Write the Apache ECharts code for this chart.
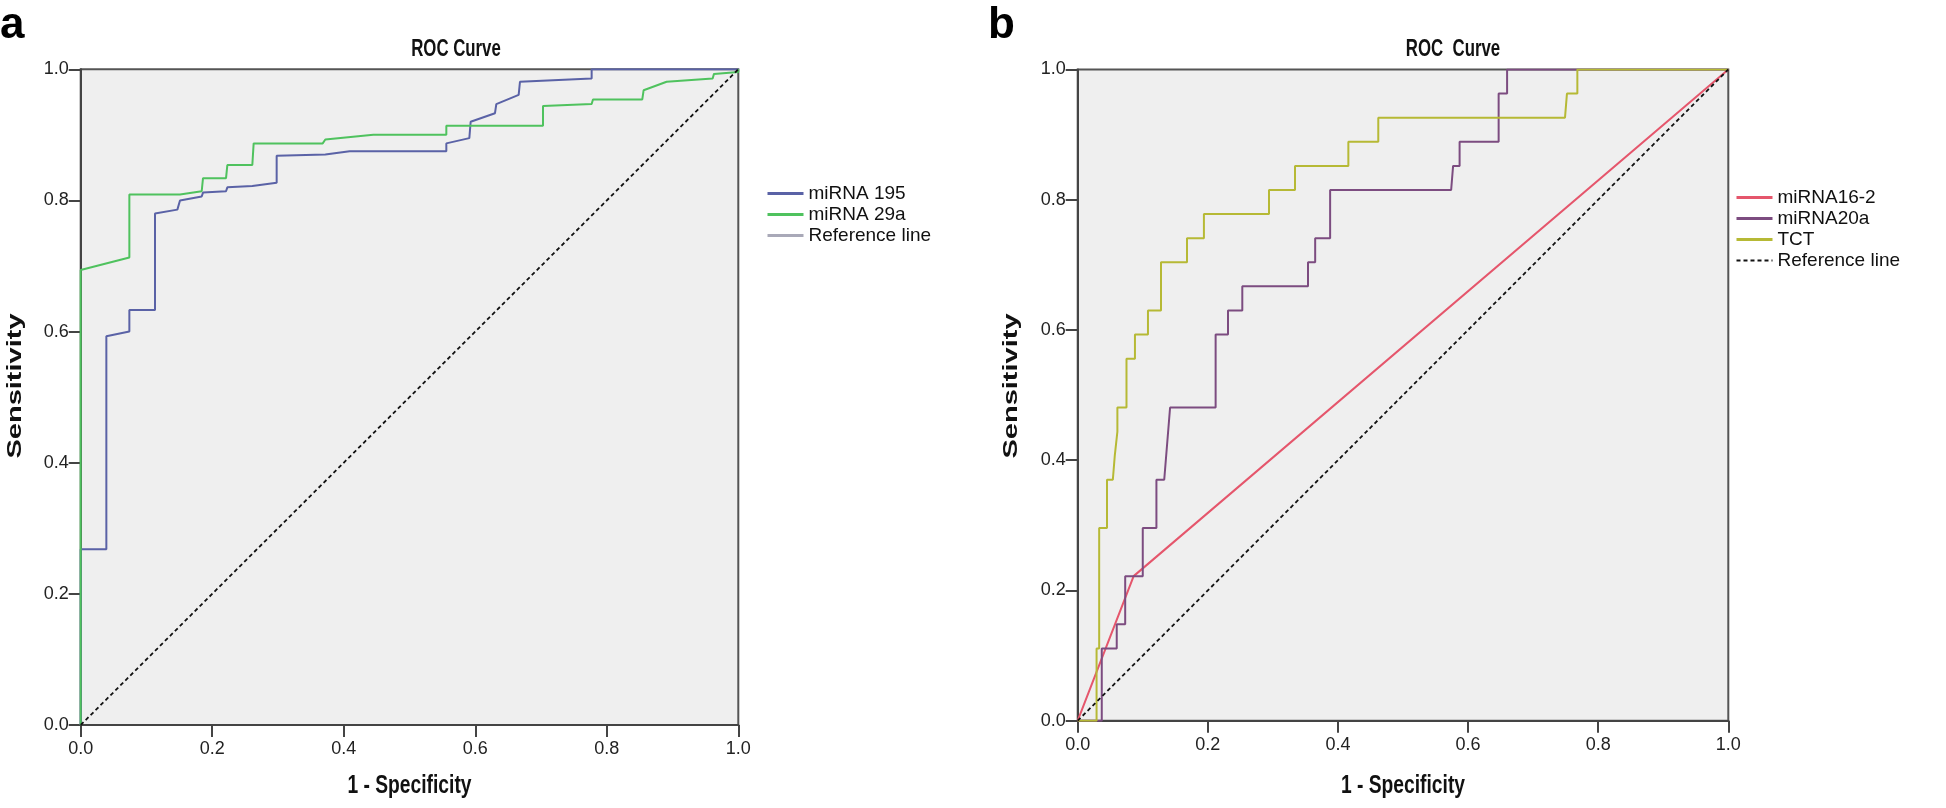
<!DOCTYPE html>
<html>
<head>
<meta charset="utf-8">
<script src="https://cdn.jsdelivr.net/npm/echarts@6/dist/echarts.min.js"></script>
<style>
html,body{margin:0;padding:0;background:#fff;}
#chart{width:1946px;height:808px;}
</style>
</head>
<body>
<div id="chart"></div>
<script>
// ---------- data ----------
const tickLabels = ['0.0','0.2','0.4','0.6','0.8','1.0'];

// Panel a
const mir195X = [0, 0, 0.039, 0.039, 0.074, 0.074, 0.113, 0.113, 0.147, 0.151, 0.184, 0.186, 0.221, 0.223, 0.261, 0.298, 0.298, 0.372, 0.409, 0.556, 0.556, 0.591, 0.593, 0.630, 0.632, 0.666, 0.668, 0.777, 0.777, 1.0];
const mir195Y = [0, 0.268, 0.268, 0.593, 0.600, 0.633, 0.633, 0.780, 0.786, 0.800, 0.806, 0.812, 0.814, 0.820, 0.822, 0.827, 0.868, 0.870, 0.875, 0.875, 0.887, 0.895, 0.920, 0.933, 0.947, 0.961, 0.981, 0.986, 1.0, 1.0];

const mir29aX = [0, 0, 0.074, 0.074, 0.151, 0.184, 0.186, 0.221, 0.223, 0.261, 0.263, 0.368, 0.372, 0.445, 0.556, 0.556, 0.703, 0.703, 0.777, 0.779, 0.854, 0.856, 0.891, 0.961, 0.963, 1.0, 1.0];
const mir29aY = [0, 0.694, 0.713, 0.809, 0.809, 0.814, 0.834, 0.834, 0.854, 0.854, 0.887, 0.887, 0.893, 0.900, 0.900, 0.914, 0.914, 0.944, 0.947, 0.954, 0.954, 0.968, 0.981, 0.986, 0.993, 0.996, 1.0];

// Panel b
const mir16X = [0, 0.086, 1.0];
const mir16Y = [0, 0.222, 1.0];

const mir20aX = [0, 0.037, 0.037, 0.060, 0.060, 0.073, 0.073, 0.100, 0.100, 0.121, 0.121, 0.133, 0.142, 0.212, 0.212, 0.231, 0.231, 0.253, 0.253, 0.354, 0.354, 0.365, 0.365, 0.388, 0.388, 0.574, 0.577, 0.587, 0.587, 0.647, 0.647, 0.660, 0.660, 1.0];
const mir20aY = [0, 0, 0.111, 0.111, 0.148, 0.148, 0.222, 0.222, 0.296, 0.296, 0.370, 0.370, 0.481, 0.481, 0.593, 0.593, 0.630, 0.630, 0.667, 0.667, 0.704, 0.704, 0.741, 0.741, 0.815, 0.815, 0.852, 0.852, 0.889, 0.889, 0.963, 0.963, 1.0, 1.0];

const tctX = [0, 0.029, 0.029, 0.033, 0.033, 0.045, 0.045, 0.054, 0.057, 0.061, 0.061, 0.075, 0.075, 0.088, 0.088, 0.108, 0.108, 0.128, 0.128, 0.168, 0.168, 0.194, 0.194, 0.294, 0.294, 0.334, 0.334, 0.416, 0.416, 0.462, 0.462, 0.749, 0.752, 0.768, 0.768, 1.0];
const tctY = [0, 0, 0.111, 0.111, 0.296, 0.296, 0.370, 0.370, 0.407, 0.444, 0.481, 0.481, 0.556, 0.556, 0.593, 0.593, 0.630, 0.630, 0.704, 0.704, 0.741, 0.741, 0.778, 0.778, 0.815, 0.815, 0.852, 0.852, 0.889, 0.889, 0.926, 0.926, 0.963, 0.963, 1.0, 1.0];

const refX = [0, 1];
const refY = [0, 1];

const zip = (xs, ys) => xs.map((x, i) => [x, ys[i]]);

// ---------- styles ----------
const FONT = "'Liberation Sans', Arial, sans-serif";
const C_BLUE = '#5a62a6', C_GREEN = '#4fc25e', C_RED = '#e5566c', C_PURPLE = '#7c4c80', C_OLIVE = '#b6b935';

function makeX(gi) {
  return {
    type: 'value', gridIndex: gi, min: 0, max: 1, interval: 0.2,
    axisLine: { show: true, onZero: false, lineStyle: { color: '#444', width: 2 } },
    axisTick: { show: true, inside: false, length: 12, lineStyle: { color: '#444', width: 2 } },
    axisLabel: { fontFamily: FONT, fontSize: 18, color: '#222', margin: 15,
      formatter: v => tickLabels[Math.round(v / 0.2)] },
    splitLine: { show: false }
  };
}
function makeY(gi) {
  return {
    type: 'value', gridIndex: gi, min: 0, max: 1, interval: 0.2,
    axisLine: { show: true, onZero: false, lineStyle: { color: '#444', width: 2 } },
    axisTick: { show: true, inside: false, length: 12, lineStyle: { color: '#444', width: 2 } },
    axisLabel: { fontFamily: FONT, fontSize: 18, color: '#222', margin: 12,
      formatter: v => tickLabels[Math.round(v / 0.2)] },
    splitLine: { show: false }
  };
}
function line(name, xs, ys, color, gi, extra) {
  return Object.assign({
    name, type: 'line', xAxisIndex: gi, yAxisIndex: gi,
    data: zip(xs, ys), symbol: 'none', silent: true, animation: false,
    lineStyle: { color, width: 2 }, itemStyle: { color }
  }, extra || {});
}
const hiddenSym = { opacity: 0, borderWidth: 0 };
function txt(text, x, y, font, extra) {
  return Object.assign({ type: 'text', silent: true, x, y,
    style: { text, font, fill: '#111', align: 'center', verticalAlign: 'middle' } }, extra || {});
}

const chart = echarts.init(document.getElementById('chart'), null, { renderer: 'canvas' });
chart.setOption({
  backgroundColor: '#ffffff',
  animation: false,
  grid: [
    { left: 80.7, top: 69.3, width: 657.6, height: 655.7, show: true, backgroundColor: '#efefef', borderColor: '#555', borderWidth: 2 },
    { left: 1077.7, top: 69.5, width: 650.6, height: 651.2, show: true, backgroundColor: '#efefef', borderColor: '#555', borderWidth: 2 }
  ],
  xAxis: [makeX(0), makeX(1)],
  yAxis: [makeY(0), makeY(1)],
  legend: [
    { orient: 'vertical', left: 766, top: 184, padding: 0, itemWidth: 36, itemHeight: 14, itemGap: 2,
      textStyle: { fontFamily: FONT, fontSize: 19, color: '#111', lineHeight: 18 },
      itemStyle: hiddenSym, lineStyle: { width: 3 },
      data: [
        { name: 'miRNA 195', itemStyle: hiddenSym },
        { name: 'miRNA 29a', itemStyle: hiddenSym },
        { name: 'Reference line', itemStyle: hiddenSym, lineStyle: { color: '#a9a9b8', type: 'solid', width: 3 } }
      ] },
    { orient: 'vertical', left: 1735, top: 188, padding: 0, itemWidth: 36, itemHeight: 14, itemGap: 2,
      textStyle: { fontFamily: FONT, fontSize: 19, color: '#111', lineHeight: 18 },
      itemStyle: hiddenSym, lineStyle: { width: 3 },
      data: [
        { name: 'miRNA16-2', itemStyle: hiddenSym },
        { name: 'miRNA20a', itemStyle: hiddenSym },
        { name: 'TCT', itemStyle: hiddenSym },
        { name: 'Reference line', itemStyle: hiddenSym, lineStyle: { color: '#111', type: [4, 3], width: 2 } }
      ] }
  ],
  graphic: [
    { type: 'text', silent: true, style: { text: 'a', font: "bold 44px " + FONT, fill: '#000' }, x: 0, y: 4 },
    { type: 'text', silent: true, style: { text: 'b', font: "bold 44px " + FONT, fill: '#000' }, x: 988, y: 4 },
    txt('ROC Curve', 456, 49, "bold 24px " + FONT, { scaleX: 0.7 }),
    txt('ROC  Curve', 1453, 49, "bold 24px " + FONT, { scaleX: 0.7 }),
    txt('Sensitivity', 15, 386, "bold 29px " + FONT, { rotation: Math.PI / 2, scaleY: 0.72 }),
    txt('Sensitivity', 1011, 386, "bold 29px " + FONT, { rotation: Math.PI / 2, scaleY: 0.72 }),
    txt('1 - Specificity', 409.5, 786, "bold 26px " + FONT, { scaleX: 0.74 }),
    txt('1 - Specificity', 1403, 786, "bold 26px " + FONT, { scaleX: 0.74 })
  ],
  series: [
    line('miRNA 195', mir195X, mir195Y, C_BLUE, 0),
    line('miRNA 29a', mir29aX, mir29aY, C_GREEN, 0),
    line('Reference line', refX, refY, '#111', 0, { lineStyle: { color: '#111', width: 1.8, type: [4, 3] } }),
    line('miRNA16-2', mir16X, mir16Y, C_RED, 1),
    line('miRNA20a', mir20aX, mir20aY, C_PURPLE, 1),
    line('TCT', tctX, tctY, C_OLIVE, 1),
    line('Reference line', refX, refY, '#111', 1, { lineStyle: { color: '#111', width: 1.8, type: [4, 3] } })
  ]
});
</script>
</body>
</html>
